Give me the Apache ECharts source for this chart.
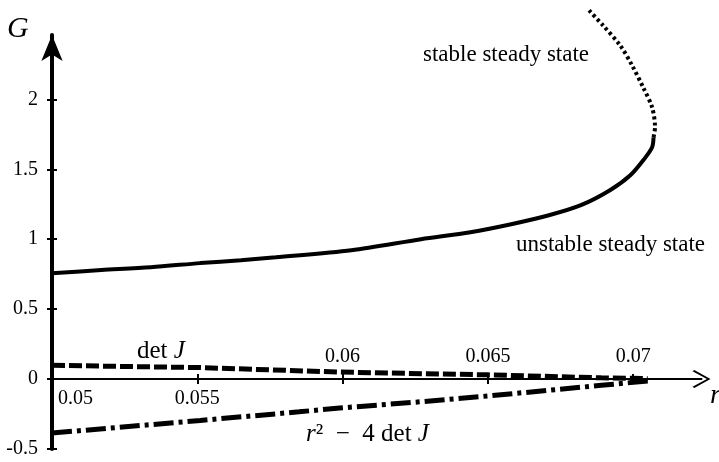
<!DOCTYPE html>
<html>
<head>
<meta charset="utf-8">
<script src="https://cdn.jsdelivr.net/npm/echarts@6/dist/echarts.min.js"></script>
<style>
  html, body { margin: 0; padding: 0; background: #fff; }
  #chart { width: 719px; height: 462px; }
</style>
</head>
<body>
<div id="chart"></div>
<script>
// lower branch (solid)
const solidR = [0.0500, 0.0517, 0.0534, 0.0551, 0.0565, 0.0577, 0.0603, 0.0627, 0.0644, 0.0658, 0.0671, 0.0682, 0.0692, 0.0699, 0.0704, 0.07065, 0.0707]
const solidG = [0.757, 0.779, 0.800, 0.829, 0.850, 0.871, 0.921, 1.000, 1.050, 1.107, 1.171, 1.243, 1.350, 1.457, 1.579, 1.657, 1.729]
// upper branch (dotted)
const dottedR = [0.0707, 0.07075, 0.07065, 0.07034, 0.06996, 0.06955, 0.06896, 0.06848]
const dottedG = [1.729, 1.800, 1.943, 2.086, 2.243, 2.386, 2.529, 2.636]
// det J (dashed)
const detR = [0.0500, 0.0551, 0.0599, 0.0650, 0.0689, 0.0705]
const detG = [0.098, 0.082, 0.050, 0.030, 0.009, 0.003]
// r^2 - 4 det J (dash-dot)
const discR = [0.0500, 0.0534, 0.0551, 0.0585, 0.0599, 0.0627, 0.0650, 0.0671, 0.0689, 0.0705]
const discG = [-0.386, -0.326, -0.296, -0.234, -0.207, -0.162, -0.121, -0.080, -0.045, -0.014]

const xTicks = [0.05, 0.055, 0.06, 0.065, 0.07]
const xLabelsBelow = [0.05, 0.055]
const xLabelsAbove = [0.06, 0.065, 0.07]
const yTicks = [-0.5, 0, 0.5, 1, 1.5, 2]

const pairs = (xs, ys) => xs.map((x, i) => [x, ys[i]])

const serif = 'Liberation Serif'
const chevron = 'path://M50 0 L100 90 L93 100 L50 20 L7 100 L0 90 Z'

// grid: y from -0.5 to 2.46 over 414px, so G = 0 sits 70px above the bottom edge
const gridTop = 35
const gridBottom = 13
const yMin = -0.5
const yMax = 2.46
const plotH = 462 - gridTop - gridBottom
const zeroFromBottom = Math.round(plotH * (0 - yMin) / (yMax - yMin))
const zeroFromTop = plotH - zeroFromBottom

const chart = echarts.init(document.getElementById('chart'))

const option = {
  animation: false,
  grid: { left: 52, right: 17.5, top: gridTop, bottom: gridBottom, containLabel: false, outerBoundsMode: 'none' },
  xAxis: [
    {
      type: 'value',
      position: 'bottom',
      offset: -zeroFromBottom,
      min: 0.05,
      max: 0.07235,
      axisLine: {
        onZero: false,
        lineStyle: { color: '#000', width: 2 },
        symbol: ['none', chevron],
        symbolSize: [18, 27],
      },
      axisTick: { customValues: xTicks, length: 5, lineStyle: { color: '#000', width: 2 } },
      axisLabel: {
        customValues: xLabelsBelow,
        formatter: v => (v === 0.05 ? '{first|0.05}' : String(v)),
        rich: { first: { padding: [0, 0, 0, 6], color: '#000', fontFamily: serif, fontSize: 20 } },
        margin: 10,
        alignMinLabel: 'left',
        color: '#000',
        fontFamily: serif,
        fontSize: 20,
      },
      splitLine: { show: false },
    },
    {
      type: 'value',
      position: 'top',
      offset: -zeroFromTop,
      min: 0.05,
      max: 0.07235,
      axisLine: { show: true, onZero: false, lineStyle: { color: '#000', width: 2, opacity: 0 } },
      axisTick: { customValues: xTicks, length: 5, lineStyle: { color: '#000', width: 2 } },
      axisLabel: {
        customValues: xLabelsAbove,
        formatter: v => String(v),
        margin: 12,
        color: '#000',
        fontFamily: serif,
        fontSize: 20,
      },
      splitLine: { show: false },
    },
  ],
  yAxis: [
    {
      type: 'value',
      min: yMin,
      max: yMax,
      axisLine: {
        show: true,
        onZero: false,
        lineStyle: { color: '#000', width: 4 },
        symbol: ['none', 'arrow'],
        symbolSize: [16, 26],
      },
      axisTick: { show: true, customValues: yTicks, length: 5, lineStyle: { color: '#000', width: 2 } },
      axisLabel: {
        customValues: yTicks,
        formatter: v => String(v),
        margin: 14,
        color: '#000',
        fontFamily: serif,
        fontSize: 20,
      },
      splitLine: { show: false },
    },
    {
      type: 'value',
      position: 'left',
      min: yMin,
      max: yMax,
      axisLine: { show: false, onZero: false },
      axisTick: { show: true, inside: true, customValues: yTicks, length: 5, lineStyle: { color: '#000', width: 2 } },
      axisLabel: { show: false },
      splitLine: { show: false },
    },
  ],
  series: [
    {
      name: 'unstable',
      type: 'line',
      data: pairs(solidR, solidG),
      showSymbol: false,
      symbol: 'none',
      smooth: 0.3,
      lineStyle: { color: '#000', width: 4 },
      z: 3,
    },
    {
      name: 'stable',
      type: 'line',
      data: pairs(dottedR, dottedG),
      showSymbol: false,
      symbol: 'none',
      smooth: 0.3,
      clip: false,
      lineStyle: { color: '#000', width: 4, type: [3, 3] },
      z: 3,
    },
    {
      name: 'det J',
      type: 'line',
      data: pairs(detR, detG),
      showSymbol: false,
      symbol: 'none',
      lineStyle: { color: '#000', width: 5, type: [13, 4] },
      z: 3,
    },
    {
      name: 'r^2 - 4 det J',
      type: 'line',
      data: pairs(discR, discG),
      showSymbol: false,
      symbol: 'none',
      lineStyle: { color: '#000', width: 5, type: [20, 5, 4, 5] },
      z: 3,
    },
  ],
  graphic: [
    { type: 'text', left: 7, top: 14, style: { text: 'G', fontFamily: serif, fontStyle: 'italic', fontSize: 30, fill: '#000' } },
    { type: 'text', x: 423, y: 55, style: { text: 'stable steady state', fontFamily: serif, fontSize: 23, fill: '#000', verticalAlign: 'middle' } },
    { type: 'text', x: 516, y: 245, style: { text: 'unstable steady state', fontFamily: serif, fontSize: 23, fill: '#000', verticalAlign: 'middle' } },
    {
      type: 'text', x: 137, y: 351,
      style: {
        text: '{n|det }{i|J}',
        verticalAlign: 'middle',
        rich: {
          n: { fontFamily: serif, fontSize: 25, fill: '#000' },
          i: { fontFamily: serif, fontSize: 25, fontStyle: 'italic', fill: '#000' },
        },
      },
    },
    {
      type: 'text', x: 306, y: 434,
      style: {
        text: '{i|r}{n|²  −  4 det }{i|J}',
        verticalAlign: 'middle',
        rich: {
          n: { fontFamily: serif, fontSize: 25, fill: '#000' },
          i: { fontFamily: serif, fontSize: 25, fontStyle: 'italic', fill: '#000' },
        },
      },
    },
    { type: 'text', x: 710, y: 396, style: { text: 'r', fontFamily: serif, fontStyle: 'italic', fontSize: 28, fill: '#000', verticalAlign: 'middle' } },
  ],
}

chart.setOption(option)
</script>
</body>
</html>
